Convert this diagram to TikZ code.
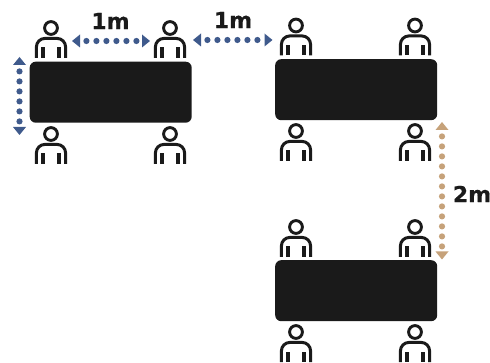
\documentclass[tikz,border=0pt]{standalone}
\usepackage{fontspec}
\setmainfont{DejaVu Sans}
\newfontfamily\labelfont[FakeBold=0.6]{DejaVu Sans Bold}
\usetikzlibrary{arrows.meta}
\definecolor{ink}{HTML}{1A1A1A}
\definecolor{blueline}{HTML}{3F5A8C}
\definecolor{tanline}{HTML}{C6A27A}
\tikzset{
  tablebox/.style={fill=ink,draw=none,rounded corners=6pt,inner sep=0pt,minimum width=162pt,minimum height=61pt,anchor=north west},
  dist/.style={line width=6.2pt,line cap=round,dash pattern=on 0pt off 10pt,dash phase=3.6pt,
    arrows={Triangle[length=8pt,width=13pt,line width=0pt,round=false]-Triangle[length=8pt,width=13pt,line width=0pt]}},
  label/.style={font=\fontsize{22}{22}\selectfont\labelfont,text=ink,inner sep=0pt},
  person/.pic={
    \draw[ink,line width=2.9pt] (0,0) circle (6.4pt);
    \draw[ink,line width=3pt] (-14.6,30) -- (-14.6,19) arc[start angle=180,end angle=90,radius=8.6pt] -- (6,10.4) arc[start angle=90,end angle=0,radius=8.6pt] -- (14.6,30);
    \fill[ink] (-10,19.5) rectangle (-5.8,30);
    \fill[ink] (6,19.5) rectangle (10.2,30);
  }
}
\begin{document}
\begin{tikzpicture}[x=1pt,y=-1pt]
\useasboundingbox (0,0) rectangle (490,363);
\clip (0,0) rectangle (490,363);
% tables
\node[tablebox] (t1) at (29.5,61.5) {};
\node[tablebox] (t2) at (275,59) {};
\node[tablebox] (t3) at (275,260) {};
% people
\foreach \n/\x/\y in {a/51/28,b/170/28,c/51/134,d/170/134,
  e/296/25.5,f/415/25.5,g/296/131,h/415/131,
  i/296/227,j/415/227,k/296/332,l/415/332}
  \pic (\n) at (\x,\y) {person};
% connector ends
\coordinate (a1) at (72,41);   \coordinate (a2) at (150,41);
\coordinate (b1) at (193,40);  \coordinate (b2) at (272.5,40);
\coordinate (c1) at (19.5,57); \coordinate (c2) at (19.5,135);
\coordinate (d1) at (442,122); \coordinate (d2) at (442,259.5);
\draw[dist,blueline] (a1) -- (a2);
\draw[dist,blueline] (b1) -- (b2);
\draw[dist,blueline] (c1) -- (c2);
\draw[dist,tanline] (d1) -- (d2);
% labels
\node[label] (l1) at (110.5,21) {1m};
\node[label] (l2) at (233,20) {1m};
\node[label] (l3) at (472,194) {2m};
\end{tikzpicture}
\end{document}
